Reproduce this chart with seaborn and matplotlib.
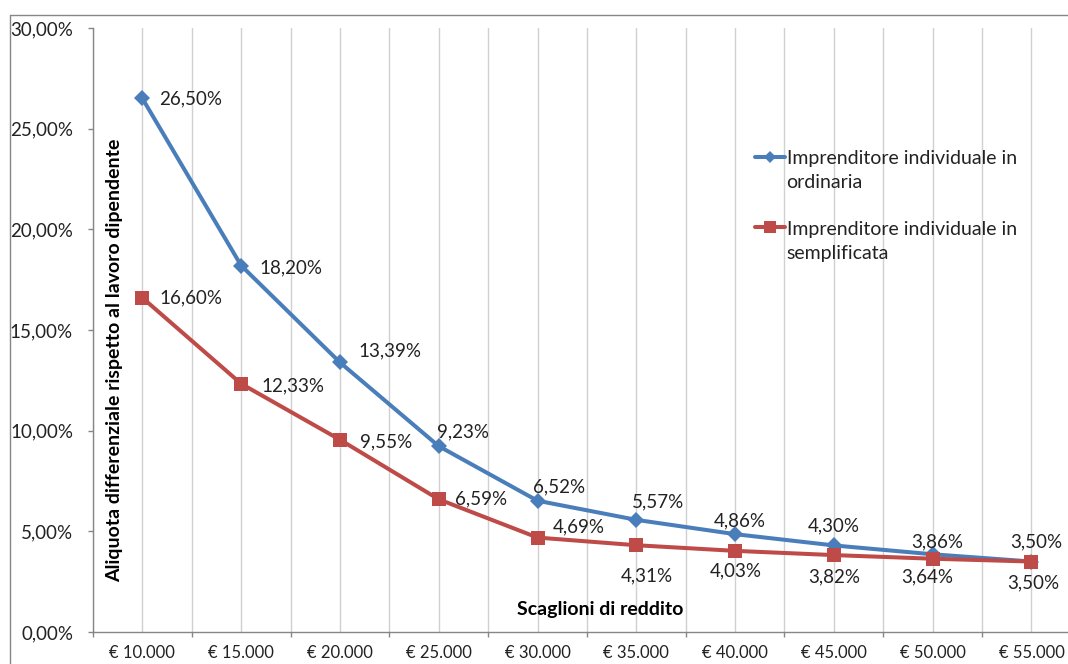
import matplotlib
matplotlib.use("Agg")
import matplotlib.pyplot as plt
from matplotlib.lines import Line2D
from matplotlib.ticker import FuncFormatter, FixedLocator
import seaborn as sns
import pandas as pd

# --- data ---
categories = ['€ 10.000', '€ 15.000', '€ 20.000', '€ 25.000', '€ 30.000',
              '€ 35.000', '€ 40.000', '€ 45.000', '€ 50.000', '€ 55.000']
ordinaria = [26.50, 18.20, 13.39, 9.23, 6.52, 5.57, 4.86, 4.30, 3.86, 3.50]
semplificata = [16.60, 12.33, 9.55, 6.59, 4.69, 4.31, 4.03, 3.82, 3.64, 3.50]
label_ord = 'Imprenditore individuale in\nordinaria'
label_sem = 'Imprenditore individuale in\nsemplificata'

# label offsets in pixels (dx, dy, ha)
off_ord = [(17, 0, 'left'), (18, -2, 'left'), (18, 12, 'left'), (-2, 14, 'left'),
           (-5, 14, 'left'), (-4, 18, 'left'), (5, 13, 'center'), (0, 20, 'center'),
           (5, 12, 'center'), (5, 20, 'center')]
off_sem = [(17, 0, 'left'), (20, -2, 'left'), (20, -2, 'left'), (16, 0, 'left'),
           (15, 11, 'left'), (11, -31, 'center'), (1, -20, 'center'), (0, -22, 'center'),
           (-5, -18, 'center'), (2, -21, 'center')]

blue = '#4A7EBB'
red = '#BE4B48'

df = pd.concat([
    pd.DataFrame({'x': range(len(categories)), 'y': ordinaria, 'serie': label_ord}),
    pd.DataFrame({'x': range(len(categories)), 'y': semplificata, 'serie': label_sem}),
])

sns.set_theme(style='white')
plt.rcParams['font.family'] = ['Lato', 'DejaVu Sans']

fig = plt.figure(figsize=(10.68, 6.64), dpi=100)
ax = fig.add_axes([93 / 1068, 32 / 664, 975 / 1068, 604 / 664])

sns.lineplot(data=df, x='x', y='y', hue='serie', style='serie',
             palette={label_ord: blue, label_sem: red},
             markers={label_ord: 'D', label_sem: 's'},
             dashes=False, linewidth=2.9, markersize=8,
             markeredgewidth=0, ax=ax, legend=False)
# square markers a bit bigger
for ln in ax.lines:
    if ln.get_marker() == 's':
        ln.set_markersize(10.5)

ax.set_xlim(-0.5, 9.37)
ax.set_ylim(0, 30)

ax.xaxis.set_major_locator(FixedLocator(range(len(categories))))
ax.set_xticklabels(categories)
ax.xaxis.set_minor_locator(FixedLocator([i - 0.5 for i in range(len(categories) + 1)]))
ax.tick_params(axis='x', which='major', length=0, pad=9, labelsize=12, colors='#222222')
ax.tick_params(axis='x', which='minor', length=3.6, width=1, color='#868686', direction='out', bottom=True)
ax.set_yticks([0, 5, 10, 15, 20, 25, 30])
ax.yaxis.set_major_formatter(FuncFormatter(lambda v, p: f'{v:.2f}%'.replace('.', ',')))
ax.tick_params(axis='y', length=3.6, width=1, color='#868686', direction='out', left=True,
               pad=10.8, labelsize=13.5, labelcolor='#222222')

ax.grid(False)
for x in [i - 0.5 for i in range(len(categories) + 2)] + list(range(len(categories))):
    ax.axvline(x, color='#D0D0D0', linewidth=1, zorder=0)

for s in ['top', 'right']:
    ax.spines[s].set_visible(False)
for s in ['left', 'bottom']:
    ax.spines[s].set_color('#868686')
    ax.spines[s].set_linewidth(1)

ax.set_xlabel('')
ax.set_ylabel('')

# data labels
for vals, offs in [(ordinaria, off_ord), (semplificata, off_sem)]:
    for i, (v, (dx, dy, ha)) in enumerate(zip(vals, offs)):
        ax.annotate(f'{v:.2f}%'.replace('.', ','), (i, v), xytext=(dx, dy),
                    textcoords='offset pixels', ha=ha, va='center',
                    fontsize=13.5, color='#222222')

# axis titles inside plot area
ax.text(22 / 975, 0.45, 'Aliquota differenziale rispetto al lavoro dipendente',
        rotation=90, ha='center', va='center', fontsize=14, fontweight='bold',
        transform=ax.transAxes, color='black')
ax.text(507 / 975, 22 / 604, 'Scaglioni di reddito', ha='center', va='center',
        fontsize=14, fontweight='bold', transform=ax.transAxes, color='black')

# legend
handles = [Line2D([], [], color=blue, marker='D', markersize=6, lw=2.9, markeredgewidth=0),
           Line2D([], [], color=red, marker='s', markersize=8, lw=2.9, markeredgewidth=0)]
leg = fig.legend(handles, [label_ord, label_sem], loc='upper left',
                 bbox_to_anchor=(737 / 1068, 1 - 133 / 664), frameon=False,
                 fontsize=14, handlelength=1.55, handletextpad=0.1, labelspacing=1.5,
                 labelcolor='#222222')
for t in leg.get_texts():
    t.set_linespacing(1.5)
# marker on the first line of each entry, like the original
for col in leg._legend_handle_box.get_children():
    for row in col.get_children():
        row.align = 'top'

# chart frame
fig.add_artist(Line2D([10 / 1068, 10 / 1068], [0, 1 - 15 / 664], color='#868686', lw=1,
                      transform=fig.transFigure))
fig.add_artist(Line2D([10 / 1068, 1], [1 - 15 / 664, 1 - 15 / 664], color='#868686', lw=1,
                      transform=fig.transFigure))

fig.savefig('out.png', dpi=100)
